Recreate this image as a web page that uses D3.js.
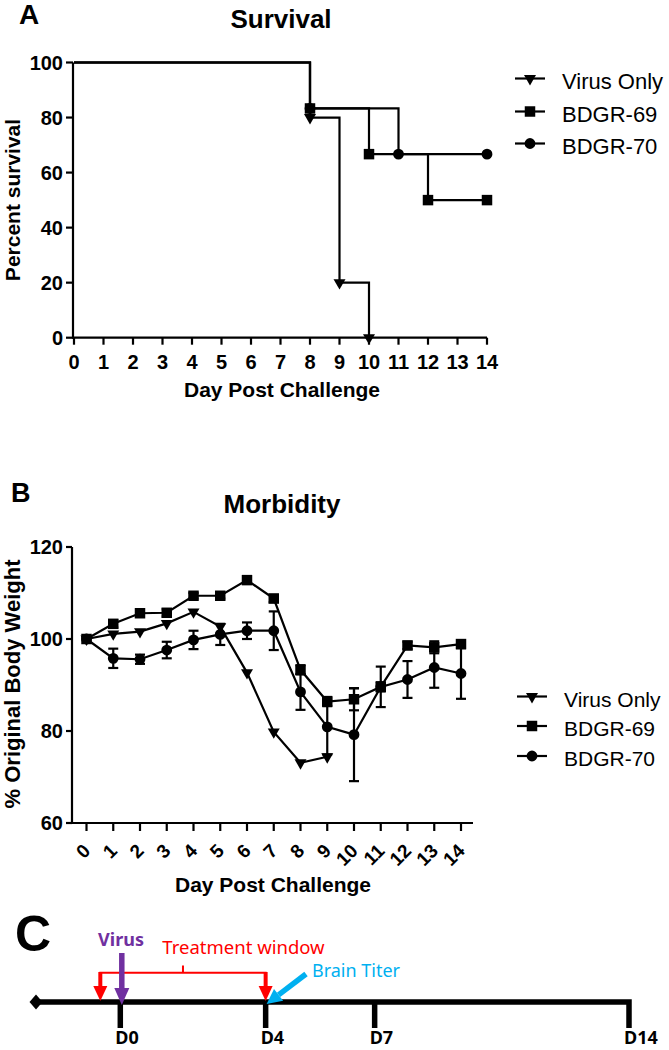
<!DOCTYPE html>
<html><head><meta charset="utf-8">
<script src="https://cdn.jsdelivr.net/npm/d3@7"></script>
<style>body{margin:0;background:#fff} svg{display:block}</style>
</head><body>
<svg id="c" width="669" height="1050"></svg>
<script>
// ---------- DATA ----------
const seriesNames = ["Virus Only", "BDGR-69", "BDGR-70"];
const dayTicks = [0,1,2,3,4,5,6,7,8,9,10,11,12,13,14];
const survYTicks = [0,20,40,60,80,100];
// Survival (Kaplan-Meier steps)
const survVirusDays = [0,8,9,10];
const survVirusPct  = [100,80,20,0];
const surv69Days = [0,8,10,12,14];
const surv69Pct  = [100,83.3,66.7,50,50];
const surv70Days = [0,8,11,14];
const surv70Pct  = [100,83.3,66.7,66.7];
// Morbidity
const morbYTicks = [60,80,100,120];
const weightVirus = [100,101.1,101.6,103.4,105.9,102.7,92.7,79.8,73.1,74.4];
const weight69 = [100,103.3,105.6,105.7,109.4,109.4,112.8,108.8,93.3,86.4,86.9,89.6,98.6,98.2,98.9];
const err69    = [0,0.8,0.6,0.8,0.6,0.6,0.6,0.8,1.0,1.0,2.4,1.0,0.8,1.3,0.8];
const weight70 = [100,95.8,95.6,97.6,99.8,101.0,101.8,101.8,88.5,80.9,79.2,89.6,91.2,93.8,92.5];
const err70    = [0,2.1,1.0,1.8,2.0,2.3,1.8,4.2,3.9,6.0,10.1,4.4,4.0,4.4,5.5];
// Timeline
const timelineTicks = [0,4,7,14];
const timelineLabels = ["D0","D4","D7","D14"];
const timelineStart = -2.32;
const treatmentWindow = [-0.55, 4];
const virusDay = 0;
const brainTiterDay = 4;

// ---------- DRAW ----------
const svg = d3.select("#c");
const F = "'Liberation Sans', Arial, sans-serif";
const FC = "'Noto Sans', sans-serif";

function sym(name){
  if (name === "Virus Only") return d3.symbol().type(d3.symbolTriangle).size(62)();
  if (name === "BDGR-69") return d3.symbol().type(d3.symbolSquare).size(110)();
  return d3.symbol().type(d3.symbolCircle).size(92)();
}
function marker(g, name, x, y){
  g.append("path").attr("d", sym(name))
    .attr("transform", `translate(${x},${y})` + (name==="Virus Only" ? " rotate(180)" : ""))
    .attr("fill","#000");
}
function legend(x0, ys, fs){
  const g = svg.append("g");
  seriesNames.forEach((n,i)=>{
    g.append("line").attr("x1",x0).attr("x2",x0+30).attr("y1",ys[i]).attr("y2",ys[i])
      .attr("stroke","#000").attr("stroke-width",2.2);
    marker(g, n, x0+15, ys[i]);
    g.append("text").attr("x",x0+47).attr("y",ys[i]+fs*0.48).text(n)
      .attr("font-family",F).attr("font-size",fs).attr("fill","#000");
  });
}
function txt(x,y,s,opts){
  const t = svg.append("text").attr("x",x).attr("y",y).text(s)
    .attr("font-family",opts.ff||F).attr("font-size",opts.fs)
    .attr("font-weight",opts.fw||"bold").attr("fill",opts.fill||"#000")
    .attr("text-anchor",opts.anchor||"start");
  if (opts.rot) t.attr("transform",`rotate(${opts.rot},${x},${y})`);
  return t;
}

// ===== Panel A =====
txt(19, 24, "A", {fs:28});
txt(281, 28, "Survival", {fs:26, anchor:"middle"});
const xA = d3.scaleLinear().domain([0,14]).range([74,487]);
const yA = d3.scaleLinear().domain([0,100]).range([337.7,62.5]);
const gA = svg.append("g");
gA.append("line").attr("x1",73).attr("x2",487).attr("y1",yA(0)).attr("y2",yA(0)).attr("stroke","#000").attr("stroke-width",2.2);
gA.append("line").attr("x1",73).attr("x2",73).attr("y1",yA(0)+1).attr("y2",yA(100)).attr("stroke","#000").attr("stroke-width",2.2);
survYTicks.forEach(v=>{
  gA.append("line").attr("x1",66).attr("x2",73).attr("y1",yA(v)).attr("y2",yA(v)).attr("stroke","#000").attr("stroke-width",2.2);
  txt(63, yA(v)+7, v, {fs:20, anchor:"end"});
});
dayTicks.forEach(d=>{
  gA.append("line").attr("x1",xA(d)).attr("x2",xA(d)).attr("y1",yA(0)).attr("y2",yA(0)+7).attr("stroke","#000").attr("stroke-width",2.2);
  txt(xA(d), 368.5, d, {fs:20, anchor:"middle"});
});
txt(282, 397, "Day Post Challenge", {fs:21, anchor:"middle"});
txt(20, 200, "Percent survival", {fs:21, anchor:"middle", rot:-90});
const stepLine = d3.line().x(d=>xA(d[0])).y(d=>yA(d[1])).curve(d3.curveStepAfter);
const survSets = [
  ["Virus Only", survVirusDays, survVirusPct],
  ["BDGR-70", surv70Days, surv70Pct],
  ["BDGR-69", surv69Days, surv69Pct]
];
survSets.forEach(([n,ds,ps])=>{
  const pts = ds.map((d,i)=>[d,ps[i]]);
  gA.append("path").attr("d", stepLine(pts)).attr("fill","none").attr("stroke","#000").attr("stroke-width",2.2);
});
survSets.forEach(([n,ds,ps])=>{
  ds.forEach((d,i)=>{ if(i>0) marker(gA, n, xA(d), yA(ps[i])); });
});
legend(515, [78.5,111.5,143.5], 22);

// ===== Panel B =====
txt(11, 502, "B", {fs:27});
txt(282, 513, "Morbidity", {fs:26, anchor:"middle"});
const xB = d3.scaleLinear().domain([0,14]).range([86.5,461]);
const yB = d3.scaleLinear().domain([60,120]).range([823,547]);
const gB = svg.append("g");
gB.append("line").attr("x1",72).attr("x2",473).attr("y1",yB(60)).attr("y2",yB(60)).attr("stroke","#000").attr("stroke-width",2.2);
gB.append("line").attr("x1",72).attr("x2",72).attr("y1",yB(60)+1).attr("y2",yB(120)).attr("stroke","#000").attr("stroke-width",2.2);
morbYTicks.forEach(v=>{
  gB.append("line").attr("x1",66).attr("x2",72).attr("y1",yB(v)).attr("y2",yB(v)).attr("stroke","#000").attr("stroke-width",2.2);
  txt(63, yB(v)+7, v, {fs:20, anchor:"end"});
});
dayTicks.forEach(d=>{
  gB.append("line").attr("x1",xB(d)).attr("x2",xB(d)).attr("y1",yB(60)).attr("y2",yB(60)+8).attr("stroke","#000").attr("stroke-width",2.2);
  txt(xB(d)+5, 852, d, {fs:19, anchor:"end", rot:-45});
});
txt(273, 892, "Day Post Challenge", {fs:21, anchor:"middle"});
txt(20, 684, "% Original Body Weight", {fs:22, anchor:"middle", rot:-90});
const line = d3.line().x((d,i)=>xB(i)).y(d=>yB(d));
const morbSets = [
  ["Virus Only", weightVirus, null],
  ["BDGR-70", weight70, err70],
  ["BDGR-69", weight69, err69]
];
morbSets.forEach(([n,w,e])=>{
  if (e) w.forEach((v,i)=>{
    if (!e[i]) return;
    const x = xB(i);
    gB.append("line").attr("x1",x).attr("x2",x).attr("y1",yB(v-e[i])).attr("y2",yB(v+e[i])).attr("stroke","#000").attr("stroke-width",2.2);
    [v-e[i], v+e[i]].forEach(c=>gB.append("line").attr("x1",x-5).attr("x2",x+5).attr("y1",yB(c)).attr("y2",yB(c)).attr("stroke","#000").attr("stroke-width",2.2));
  });
});
morbSets.forEach(([n,w,e])=>{
  gB.append("path").attr("d", line(w)).attr("fill","none").attr("stroke","#000").attr("stroke-width",2.2);
});
morbSets.forEach(([n,w,e])=>{
  w.forEach((v,i)=>marker(gB, n, xB(i), yB(v)));
});
legend(517, [696.5,726,756], 21);

// ===== Panel C =====
txt(15, 951, "C", {fs:50});
const xC = d3.scaleLinear().domain([0,14]).range([120.3,629]);
const yLine = 1002;
const gC = svg.append("g");
gC.append("path").attr("d",`M${xC(timelineStart)},${yLine}H${xC(14)}V1028`)
  .attr("fill","none").attr("stroke","#000").attr("stroke-width",5.5).attr("stroke-linejoin","miter");
timelineTicks.forEach((d,i)=>{
  if (d!==14) gC.append("line").attr("x1",xC(d)).attr("x2",xC(d)).attr("y1",yLine).attr("y2",1028).attr("stroke","#000").attr("stroke-width",5.5);
  txt(xC(d)-5, 1044, timelineLabels[i], {fs:18, ff:FC, anchor:"start"});
});
const dx = xC(timelineStart);
gC.append("path").attr("d",`M${dx-6.5},${yLine}L${dx},${yLine-7.5}L${dx+6.5},${yLine}L${dx},${yLine+7.5}Z`).attr("fill","#000");

function arrow(x1,y1,x2,y2,color,sw,hw,hl){
  const ang = Math.atan2(y2-y1,x2-x1);
  const bx = x2 - hl*Math.cos(ang), by = y2 - hl*Math.sin(ang);
  gC.append("line").attr("x1",x1).attr("y1",y1).attr("x2",bx).attr("y2",by).attr("stroke",color).attr("stroke-width",sw);
  const px = -Math.sin(ang)*hw/2, py = Math.cos(ang)*hw/2;
  gC.append("path").attr("d",`M${bx+px},${by+py}L${x2},${y2}L${bx-px},${by-py}Z`).attr("fill",color);
}
const red = "#FF0000";
const tw0 = xC(treatmentWindow[0]), tw1 = xC(treatmentWindow[1]);
gC.append("path").attr("d",`M${tw0},${975}V972.7H${tw1}V975M${(tw0+tw1)/2},972.7V965.5`)
  .attr("fill","none").attr("stroke",red).attr("stroke-width",2);
arrow(tw0, 972, tw0, 1001, red, 4, 14, 15);
arrow(tw1, 972, tw1, 1001, red, 4, 14, 15);
const purple = "#7030A0";
arrow(xC(virusDay)+1.5, 953, xC(virusDay)+1.5, 1005, purple, 5.5, 15, 17);
txt(121, 945.5, "Virus", {fs:18, ff:FC, fill:purple, anchor:"middle"});
txt(243.5, 954.3, "Treatment window", {fs:18.5, ff:FC, fw:"normal", fill:red, anchor:"middle"});
const blue = "#00B0F0";
arrow(306, 974, xC(brainTiterDay)+1, 1004, blue, 5.5, 15, 15);
txt(312, 976.5, "Brain Titer", {fs:18, ff:FC, fw:"normal", fill:blue});
</script>
</body></html>
